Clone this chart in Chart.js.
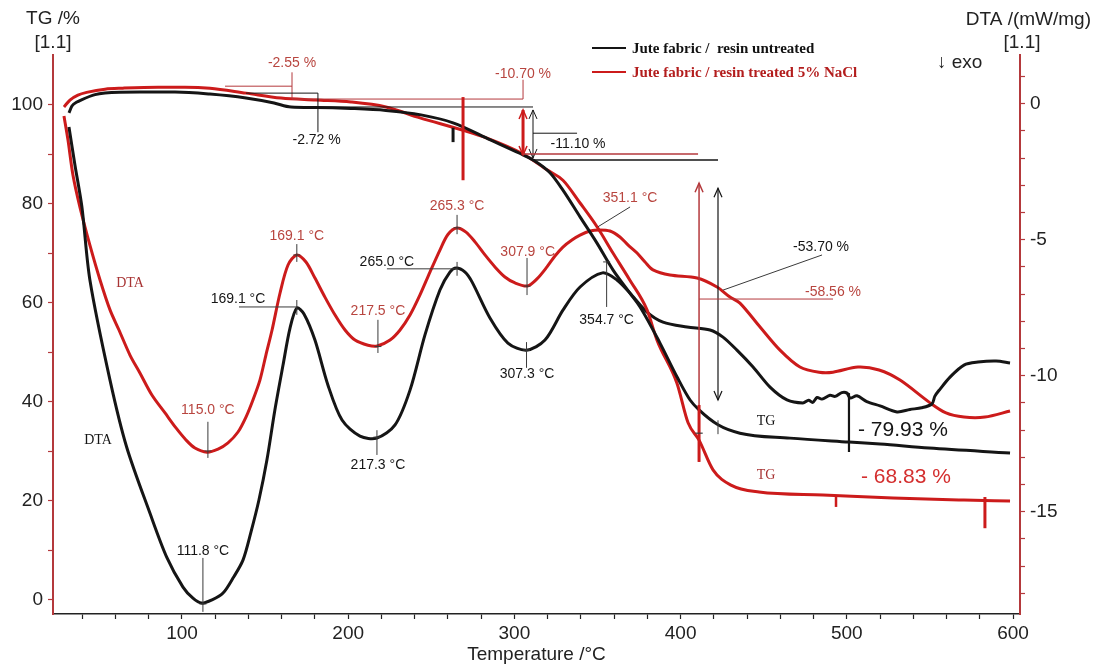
<!DOCTYPE html>
<html><head><meta charset="utf-8">
<script src="https://cdn.jsdelivr.net/npm/chart.js@4.4.1/dist/chart.umd.min.js"></script>
<style>html,body{margin:0;padding:0;background:#fff}canvas{display:block}</style>
</head><body>
<canvas id="c" width="1093" height="666"></canvas>
<script>
// ---------- data ----------
const seriesLabels = ['Jute fabric /  resin untreated', 'Jute fabric / resin treated 5% NaCl'];

const tgBlackT = [32.0,33.8,36.8,39.2,47.7,53.7,74.7,95.8,116.8,138.5,155.4,165.6,180.6,201.7,222.7,243.8,263.1,285.9,302.8,311.2,321.4,329.2,339.5,349.7,359.3,369.5,375.6,387.6,397.8,405.7,411.1,422.5,435.7,465.8,501.3,520.0,549.5,598.2];
const tgBlack  = [98.4,99.8,100.6,101.0,102.1,102.4,102.6,102.6,102.2,101.4,100.4,99.6,99.5,99.3,98.9,98.0,96.4,92.9,90.3,88.9,86.3,82.8,77.4,72.1,66.7,62.0,59.2,51.9,45.1,40.4,38.4,35.4,33.7,32.7,31.9,31.5,30.7,29.7];

const tgRedT = [29.0,32.6,37.4,43.4,53.7,64.5,85.6,101.8,116.8,138.5,159.6,180.6,201.7,222.7,243.2,269.1,283.5,305.2,319.6,329.2,339.5,349.7,359.3,369.5,379.8,385.8,397.8,404.5,411.1,419.5,430.3,447.2,485.7,527.8,570.5,598.2];
const tgRed  = [99.6,101.0,102.0,102.6,103.2,103.4,103.6,103.6,103.4,102.4,101.4,101.0,100.6,99.6,97.4,94.9,93.3,90.1,86.9,84.8,80.2,75.4,70.1,64.6,58.6,52.5,43.8,35.8,32.3,26.3,23.2,21.8,21.2,20.6,20.2,20.0];

const dtaBlackT = [32.0,35.6,39.8,44.6,56.7,66.7,80.7,90.8,100.6,106.6,111.8,118.1,124.7,130.7,136.7,141.5,146.3,151.1,155.9,160.8,165.0,169.1,173.4,180.0,187.8,196.3,207.1,217.3,228.2,237.2,246.2,255.2,261.2,265.0,270.3,274.5,285.3,296.1,307.3,318.4,329.2,339.5,353.0,361.7,369.5,379.8,389.4,403.9,417.7,425.5,433.9,443.6,453.8,464.0,473.6,477.0,479.5,482.1,485.0,489.9,493.0,497.0,500.1,502.0,506.1,512.0,520.0,530.2,538.0,545.0,551.2,553.0,556.0,562.1,570.5,578.9,589.8,598.2];
const dtaBlack  = [-0.86,-2.25,-3.80,-6.48,-10.16,-12.62,-15.05,-16.67,-17.77,-18.18,-18.36,-18.24,-17.99,-17.44,-16.78,-15.75,-14.57,-13.10,-11.26,-9.61,-8.25,-7.51,-7.73,-8.69,-10.34,-11.63,-12.22,-12.29,-11.81,-10.53,-8.50,-6.85,-6.19,-6.04,-6.19,-6.55,-7.88,-8.80,-9.06,-8.69,-7.59,-6.74,-6.22,-6.48,-6.96,-7.66,-8.03,-8.21,-8.32,-8.58,-9.06,-9.68,-10.42,-10.89,-11.00,-10.90,-10.98,-10.80,-10.86,-10.72,-10.76,-10.62,-10.64,-10.82,-10.74,-10.95,-11.11,-11.33,-11.24,-11.18,-11.04,-10.75,-10.50,-10.05,-9.61,-9.50,-9.46,-9.53];

const dtaRedT = [29.0,31.4,34.4,38.6,44.6,50.7,56.7,62.1,68.7,74.7,81.9,89.8,96.4,102.4,107.8,115.0,121.7,127.7,133.7,138.5,142.7,146.9,150.5,154.2,159.0,163.8,169.1,174.6,180.0,186.0,192.1,198.1,204.1,211.9,217.5,225.2,231.2,237.2,243.2,249.2,255.2,260.0,265.3,270.9,276.3,282.3,288.3,294.3,300.4,307.9,313.6,319.6,324.4,329.2,334.6,339.5,345.5,351.1,357.5,363.5,368.3,373.8,378.6,383.4,393.6,409.9,421.9,429.7,435.7,447.8,459.8,471.8,483.3,491.7,506.7,519.4,532.0,549.5,559.7,570.5,583.1,598.2];
const dtaRed  = [-0.45,-1.33,-2.62,-3.80,-5.20,-6.48,-7.58,-8.32,-9.24,-9.90,-10.71,-11.37,-11.92,-12.36,-12.66,-12.81,-12.70,-12.47,-12.07,-11.52,-10.89,-10.16,-9.24,-8.32,-6.96,-5.93,-5.56,-5.82,-6.41,-7.11,-7.77,-8.32,-8.69,-8.88,-8.91,-8.69,-8.32,-7.77,-7.03,-6.19,-5.38,-4.81,-4.57,-4.72,-5.08,-5.56,-6.00,-6.37,-6.59,-6.70,-6.44,-6.00,-5.60,-5.27,-5.01,-4.83,-4.68,-4.64,-4.68,-4.90,-5.19,-5.49,-5.82,-6.11,-6.30,-6.41,-6.74,-7.11,-7.33,-8.21,-9.06,-9.68,-9.87,-9.87,-9.68,-9.79,-10.16,-10.97,-11.37,-11.52,-11.52,-11.30];

// ticks
const tempTicks = [40,60,80,100,120,140,160,180,200,220,240,260,280,300,320,340,360,380,400,420,440,460,480,500,520,540,560,580,600];
const tempTickLabels = ['100','200','300','400','500','600'];
const tgTicks = [0,10,20,30,40,50,60,70,80,90,100];
const tgTickLabels = ['0','20','40','60','80','100'];
const dtaTicks = [1,0,-1,-2,-3,-4,-5,-6,-7,-8,-9,-10,-11,-12,-13,-14,-15,-16,-17,-18];
const dtaTickLabels = ['0','-5','-10','-15'];

// ---------- styles ----------
const K = '#151515', RC = '#cc1b1b', RA = '#b4393c', RT = '#b8453f', LG = '#3a3a3a';
const SANS = '"Liberation Sans", Arial, Helvetica, sans-serif';
const SERIF = '"Liberation Serif", "Times New Roman", serif';

// annotations in data units (temperature, TG %)
// [T1, TG1, T2, TG2, colour, width, arrowAtStart, arrowAtEnd]
const annoLines = [
  [125.9,103.8,166.2,103.8,RA,1],
  [166.2,106.6,166.2,101.2,RA,1],
  [166.2,101.2,305.2,101.2,RA,1],
  [138.5,102.4,181.8,102.4,K,1],
  [181.8,102.4,181.8,94.5,K,1],
  [165.6,99.6,311.2,99.6,K,1],
  [305.2,105.1,305.2,101.2,RA,1],
  [305.2,99.0,305.2,89.9,RC,3,true,true],
  [311.2,99.0,311.2,89.3,K,1,true,true],
  [311.2,94.3,337.7,94.3,K,1],
  [305.2,90.1,410.5,90.1,RA,1.5],
  [311.2,88.9,422.5,88.9,K,1.5],
  [411.1,27.9,411.1,84.2,RA,1.5,false,true],
  [411.1,39.4,411.1,27.9,RC,3],
  [422.5,40.4,422.5,83.2,K,1.2,true,true],
  [411.1,60.8,491.7,60.8,RA,1],
  [425.5,62.6,485.1,69.7,LG,1],
  [501.3,41.8,501.3,29.9,K,2.2],
  [269.1,101.6,269.1,84.8,RC,3],
  [263.1,95.4,263.1,92.5,K,3],
  [493.5,21.2,493.5,18.8,RC,2.5],
  [583.1,20.8,583.1,14.5,RC,3],
  // peak leaders & crosses
  [169.1,71.9,169.1,68.3,LG,1],[167.0,69.7,171.2,69.7,LG,1],
  [134.3,59.2,169.1,59.2,LG,1],[169.1,60.6,169.1,57.6,LG,1],
  [217.9,56.6,217.9,49.9,LG,1],[215.8,51.2,220.0,51.2,LG,1],
  [217.3,34.3,217.3,29.3,LG,1],[215.2,32.9,219.4,32.9,LG,1],
  [265.5,77.8,265.5,73.9,LG,1],[263.4,75.2,267.6,75.2,LG,1],
  [223.3,66.9,265.5,66.9,LG,1],[265.5,68.3,265.5,65.5,LG,1],
  [307.6,69.1,307.6,61.6,LG,1],[305.5,63.4,309.7,63.4,LG,1],
  [307.3,52.1,307.3,46.9,LG,1],[305.2,50.5,309.4,50.5,LG,1],
  [369.6,79.4,350.3,75.4,LG,1],
  [355.5,68.3,355.5,59.2,LG,1],[353.4,68.3,357.6,68.3,LG,1],
  [115.6,36.0,115.6,28.7,LG,1],[113.5,30.1,117.7,30.1,LG,1],
  [112.6,8.5,112.6,-2.4,LG,1],[110.5,-0.8,114.7,-0.8,LG,1],
  [422.5,36.3,422.5,33.5,LG,1],[408.9,33.7,413.3,33.7,LG,1.2]
];
// [T, TG, text, colour, size, family]
const annoTexts = [
  [166.2,108.5,'-2.55 %',RT,14,SANS],
  [181.0,92.9,'-2.72 %',K,14,SANS],
  [305.2,106.3,'-10.70 %',RT,14,SANS],
  [338.3,92.1,'-11.10 %',K,14,SANS],
  [169.1,73.5,'169.1 °C',RT,14,SANS],
  [133.7,60.8,'169.1 °C',K,14,SANS],
  [217.9,58.4,'217.5 °C',RT,14,SANS],
  [217.9,27.3,'217.3 °C',K,14,SANS],
  [265.5,79.6,'265.3 °C',RT,14,SANS],
  [223.3,68.3,'265.0 °C',K,14,SANS],
  [308.0,70.3,'307.9 °C',RT,14,SANS],
  [307.6,45.7,'307.3 °C',K,14,SANS],
  [369.6,81.2,'351.1 °C',RT,14,SANS],
  [355.5,56.6,'354.7 °C',K,14,SANS],
  [115.6,38.4,'115.0 °C',RT,14,SANS],
  [112.6,9.9,'111.8 °C',K,14,SANS],
  [484.5,71.3,'-53.70 %',K,14,SANS],
  [491.7,62.2,'-58.56 %',RT,14,SANS],
  [533.8,34.3,'- 79.93 %',K,21,SANS],
  [535.6,24.8,'- 68.83 %','#d42f2f',21,SANS],
  [451.4,36.0,'TG',K,14,SERIF],
  [451.4,25.1,'TG','#a83434',14,SERIF],
  [68.7,64.0,'DTA','#a83434',14,SERIF],
  [49.5,32.3,'DTA',K,14,SERIF]
];

function zip(xs, ys){ return xs.map((x,i)=>({x, y: ys[i]})); }

function head(ctx, x, y, up){
  const d = up ? 1 : -1;
  ctx.beginPath();
  ctx.moveTo(x-4, y + d*9); ctx.lineTo(x, y); ctx.lineTo(x+4, y + d*9);
  ctx.stroke();
}

const overlay = {
  id: 'overlay',
  afterDatasetsDraw(chart){
    const {ctx} = chart; const xs = chart.scales.x, ys = chart.scales.y;
    const X = v => xs.getPixelForValue(v), Y = v => ys.getPixelForValue(v);
    ctx.save();
    for (const l of annoLines){
      const [t1,v1,t2,v2,col,w,a1,a2] = l;
      const x1=X(t1), y1=Y(v1), x2=X(t2), y2=Y(v2);
      ctx.strokeStyle = col; ctx.lineWidth = w;
      ctx.beginPath(); ctx.moveTo(x1,y1); ctx.lineTo(x2,y2); ctx.stroke();
      ctx.lineWidth = Math.min(w,1.5);
      if (a1) head(ctx, x1, y1, y1 < y2);
      if (a2) head(ctx, x2, y2, y2 < y1);
    }
    ctx.textAlign = 'center'; ctx.textBaseline = 'middle';
    for (const t of annoTexts){
      ctx.fillStyle = t[3]; ctx.font = t[4] + 'px ' + t[5];
      ctx.fillText(t[2], X(t[0]), Y(t[1]));
    }
    ctx.restore();
  },
  afterDraw(chart){
    const {ctx} = chart; const a = chart.chartArea;
    ctx.save();
    ctx.textBaseline = 'middle';
    ctx.fillStyle = '#222';
    ctx.font = '19px ' + SANS; ctx.textAlign = 'center';
    ctx.fillText('TG /%', a.left, 19);
    ctx.fillText('[1.1]', a.left, 43);
    ctx.fillText('[1.1]', a.right + 2, 43);
    ctx.textAlign = 'right';
    ctx.fillText('DTA /(mW/mg)', 1091, 20);
    ctx.textAlign = 'left';
    ctx.fillText('\u2193 exo', 937, 63);
    ctx.textAlign = 'center';
    ctx.fillText('Temperature /°C', (a.left + a.right)/2, 655);
    // legend
    const items = chart.data.datasets.filter(d => d.showInLegend);
    items.forEach((d, i) => {
      const y = 48 + i*24;
      ctx.strokeStyle = d.borderColor; ctx.lineWidth = 2;
      ctx.beginPath(); ctx.moveTo(592, y); ctx.lineTo(626, y); ctx.stroke();
      ctx.fillStyle = i === 0 ? '#111' : '#b31d1d';
      ctx.font = 'bold 15px ' + SERIF; ctx.textAlign = 'left';
      ctx.fillText(d.label, 632, y + 1);
    });
    ctx.restore();
  }
};

function tickSetter(values){ return scale => { scale.ticks = values.map(v => ({value: v})); }; }
function labeler(labels){ return v => labels.includes(String(v)) ? String(v) : ''; }

const tgLine = {pointRadius: 0, borderWidth: 3, fill: false, cubicInterpolationMode: 'monotone'};
const dtaLine = {pointRadius: 0, borderWidth: 3, fill: false, tension: 0.3};

new Chart(document.getElementById('c'), {
  type: 'line',
  data: {
    datasets: [
      Object.assign({label: seriesLabels[0], data: zip(tgBlackT, tgBlack), borderColor: K, yAxisID: 'y', showInLegend: true}, tgLine),
      Object.assign({label: seriesLabels[1], data: zip(tgRedT, tgRed), borderColor: RC, yAxisID: 'y', showInLegend: true}, tgLine),
      Object.assign({label: 'DTA untreated', data: zip(dtaBlackT, dtaBlack), borderColor: K, yAxisID: 'y2'}, dtaLine),
      Object.assign({label: 'DTA treated', data: zip(dtaRedT, dtaRed), borderColor: RC, yAxisID: 'y2'}, dtaLine)
    ]
  },
  options: {
    responsive: false, animation: false, devicePixelRatio: 1,
    layout: {padding: {top: 55, left: 0, right: 0, bottom: 0}},
    plugins: {legend: {display: false}, tooltip: {enabled: false}},
    scales: {
      x: {
        type: 'linear', min: 22.4, max: 604.2,
        afterBuildTicks: tickSetter(tempTicks),
        afterFit: s => { s.height = 52; },
        ticks: {callback: labeler(tempTickLabels), autoSkip: false, maxRotation: 0, padding: 3, color: '#222', font: {size: 19, family: SANS}},
        grid: {drawOnChartArea: false, drawTicks: true, tickLength: 5, color: '#222', tickWidth: 1.2},
        border: {color: '#222', width: 1.5}
      },
      y: {
        type: 'linear', position: 'left', min: -2.83, max: 110.1,
        afterBuildTicks: tickSetter(tgTicks),
        afterFit: s => { s.width = 53; },
        ticks: {callback: labeler(tgTickLabels), autoSkip: false, padding: 5, color: '#222', font: {size: 19, family: SANS}},
        grid: {drawOnChartArea: false, drawTicks: true, tickLength: 5, color: RA, tickWidth: 1.2},
        border: {color: RA, width: 2}
      },
      y2: {
        type: 'linear', position: 'right', min: -18.76, max: 1.79,
        afterBuildTicks: tickSetter(dtaTicks),
        afterFit: s => { s.width = 73; },
        ticks: {callback: labeler(dtaTickLabels), autoSkip: false, padding: 5, color: '#222', font: {size: 19, family: SANS}},
        grid: {drawOnChartArea: false, drawTicks: true, tickLength: 5, color: RA, tickWidth: 1.2},
        border: {color: RA, width: 2}
      }
    }
  },
  plugins: [overlay]
});
</script>
</body></html>
